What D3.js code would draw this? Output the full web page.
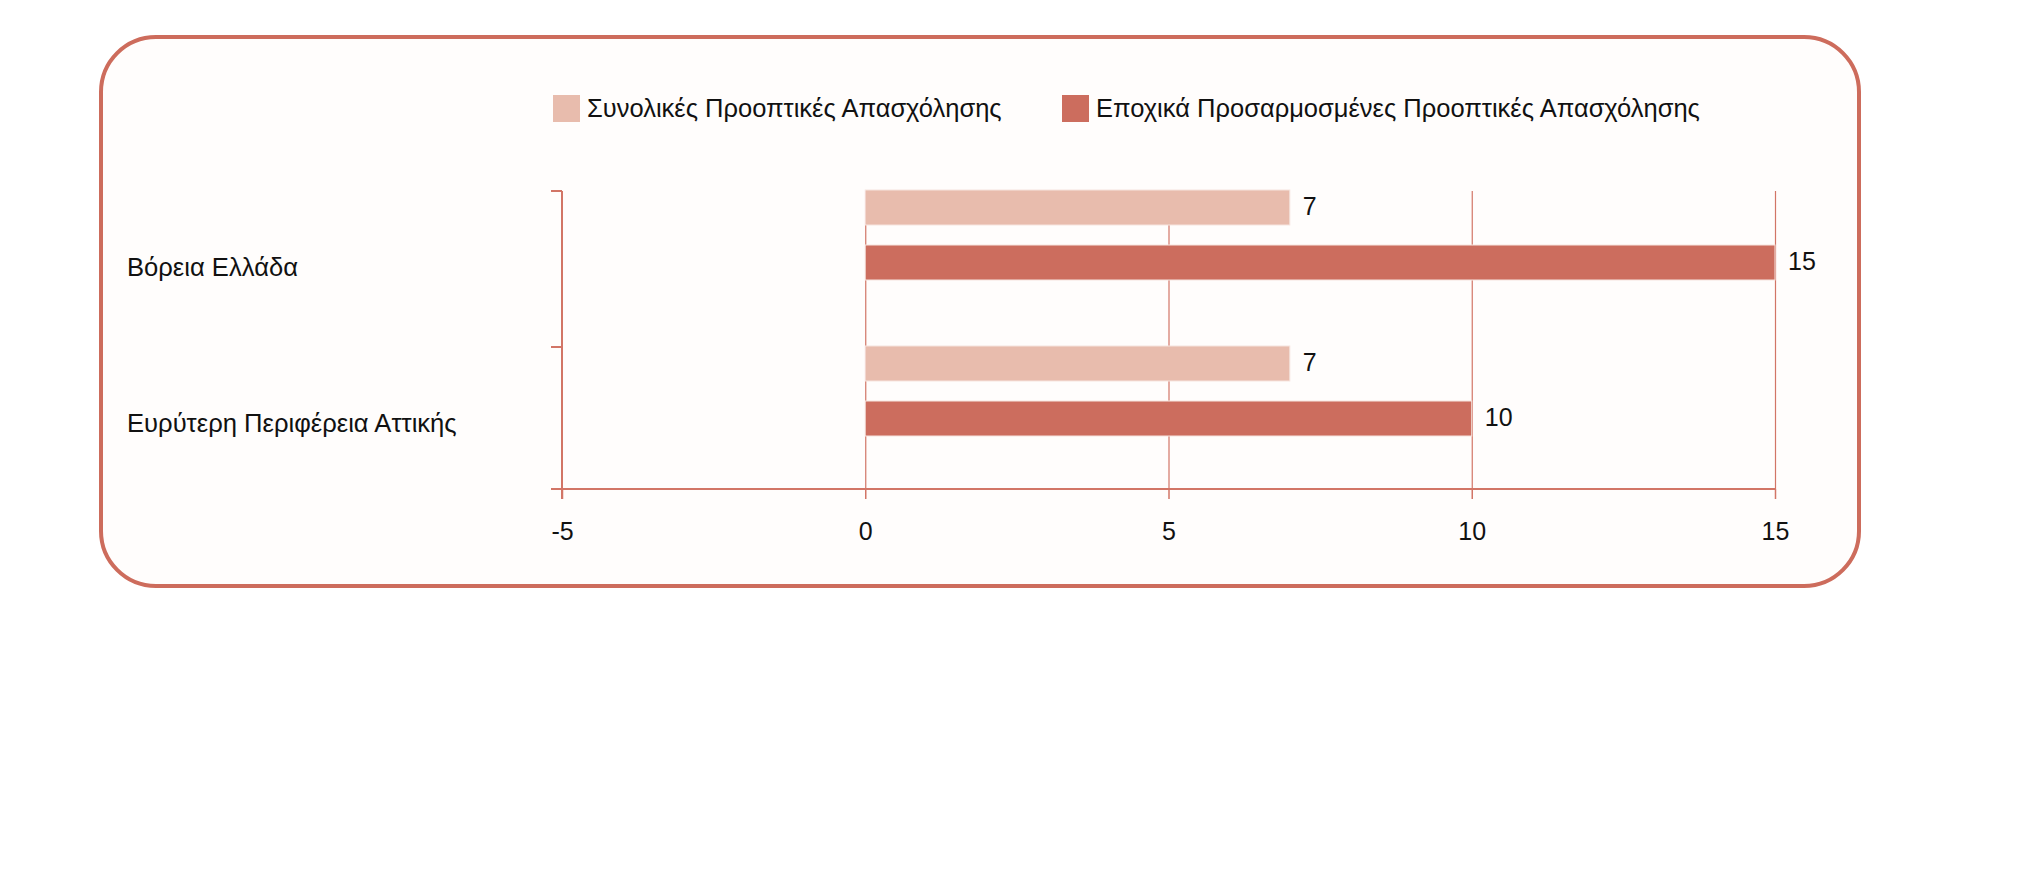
<!DOCTYPE html>
<html>
<head>
<meta charset="utf-8">
<script src="https://d3js.org/d3.v7.min.js"></script>
<style>
  body { margin: 0; background: #ffffff; }
  text { font-family: "Liberation Sans", Arial, sans-serif; fill: #111; }
  .grid .domain { stroke: none; }
  .grid line { stroke: #d27566; stroke-width: 1.2px; }
  .xaxis .domain { stroke: none; }
  .xaxis line { stroke: #d27566; stroke-width: 1.5px; }
</style>
</head>
<body>
<svg id="chart" width="2040" height="890"></svg>
<script>
// data
const categories = ["Βόρεια Ελλάδα", "Ευρύτερη Περιφέρεια Αττικής"];
const seriesNames = ["Συνολικές Προοπτικές Απασχόλησης", "Εποχικά Προσαρμοσμένες Προοπτικές Απασχόλησης"];
const totalValues = [7, 7];
const seasonalValues = [15, 10];
const xTicks = [-5, 0, 5, 10, 15];
const seriesColors = ["#e8bcad", "#cc6d5e"];

const svg = d3.select("#chart");
const axisColor = "#d27566";

// outer rounded frame
svg.append("rect")
    .attr("x", 101).attr("y", 37)
    .attr("width", 1758).attr("height", 549)
    .attr("rx", 55).attr("ry", 55)
    .attr("fill", "#fffdfc")
    .attr("stroke", "#cd6c5c")
    .attr("stroke-width", 4);

const plotTop = 191, plotBottom = 489;

const xScale = d3.scaleLinear()
    .domain([xTicks[0], xTicks[xTicks.length - 1]])
    .range([562, 1775]);

const yScale = d3.scaleBand()
    .domain(categories)
    .range([191, 503]);

const subScale = d3.scaleBand()
    .domain(seriesNames)
    .range([-1, 89])
    .paddingInner(0.364);

// gridlines
svg.append("g")
    .attr("class", "grid")
    .attr("transform", `translate(0,${plotBottom})`)
    .call(d3.axisBottom(xScale).tickValues(xTicks.slice(1)).tickSize(-(plotBottom - plotTop)).tickFormat(""));

// x axis
const xAxis = svg.append("g")
    .attr("class", "xaxis")
    .attr("transform", `translate(0,${plotBottom})`)
    .call(d3.axisBottom(xScale).tickValues(xTicks).tickSize(10).tickPadding(23).tickSizeOuter(0)
        .tickFormat(d => String(d)));
xAxis.selectAll("text")
    .style("font-size", "25px")
    .attr("fill", "#111");

svg.append("line")
    .attr("x1", xScale(xTicks[0]) - 11).attr("x2", xScale(xTicks[xTicks.length - 1]))
    .attr("y1", plotBottom).attr("y2", plotBottom)
    .attr("stroke", axisColor).attr("stroke-width", 2);

// y axis
const x0 = xScale(xTicks[0]);
svg.append("line")
    .attr("x1", x0).attr("x2", x0)
    .attr("y1", plotTop).attr("y2", plotBottom + 10)
    .attr("stroke", axisColor).attr("stroke-width", 2);
svg.selectAll("line.ytick").data(categories)
    .join("line").attr("class", "ytick")
    .attr("x1", x0 - 11).attr("x2", x0)
    .attr("y1", d => yScale(d)).attr("y2", d => yScale(d))
    .attr("stroke", axisColor).attr("stroke-width", 2);

// category labels
svg.selectAll("text.cat").data(categories)
    .join("text").attr("class", "cat")
    .attr("x", 127)
    .attr("y", d => yScale(d) + yScale.bandwidth() / 2 - 2)
    .attr("dy", "0.35em")
    .style("font-size", "25.6px")
    .text(d => d);

// bars
const rows = [];
categories.forEach((c, i) => {
    rows.push({ cat: c, series: seriesNames[0], value: totalValues[i], color: seriesColors[0] });
    rows.push({ cat: c, series: seriesNames[1], value: seasonalValues[i], color: seriesColors[1] });
});

svg.selectAll("rect.bar").data(rows)
    .join("rect").attr("class", "bar")
    .attr("x", xScale(0))
    .attr("y", d => yScale(d.cat) + subScale(d.series))
    .attr("width", d => xScale(d.value) - xScale(0))
    .attr("height", subScale.bandwidth())
    .attr("fill", d => d.color)
    .attr("stroke", "#f6e4de")
    .attr("stroke-width", 1);

svg.selectAll("text.val").data(rows)
    .join("text").attr("class", "val")
    .attr("x", d => xScale(d.value) + 13)
    .attr("y", d => yScale(d.cat) + subScale(d.series) + subScale.bandwidth() / 2 - 1)
    .attr("dy", "0.35em")
    .style("font-size", "25px")
    .text(d => d.value);

// legend
const legendX = [553, 1062];
const legend = svg.selectAll("g.legend").data(seriesNames)
    .join("g").attr("class", "legend")
    .attr("transform", (d, i) => `translate(${legendX[i]},95)`);
legend.append("rect")
    .attr("width", 27).attr("height", 27)
    .attr("fill", (d, i) => seriesColors[i]);
legend.append("text")
    .attr("x", 34).attr("y", 13)
    .attr("dy", "0.35em")
    .style("font-size", "25.5px")
    .text(d => d);
</script>
</body>
</html>
